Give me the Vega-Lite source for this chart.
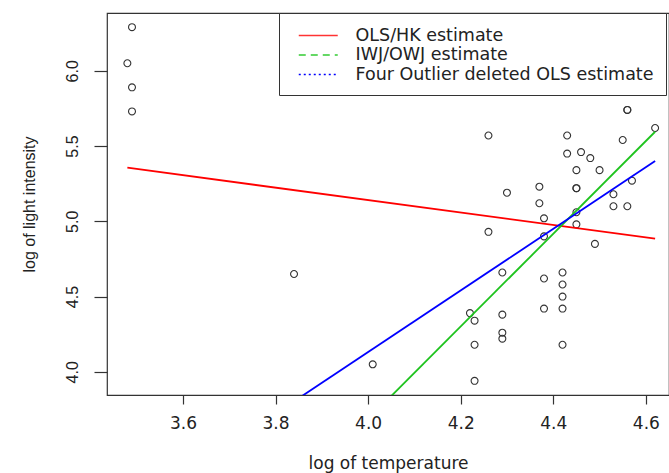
{
  "$schema": "https://vega.github.io/schema/vega-lite/v6.json",
  "width": 562,
  "height": 382,
  "autosize": {"type": "none"},
  "padding": {"left": 107, "top": 13, "right": 0, "bottom": 78},
  "background": "white",
  "config": {
    "view": {"stroke": "#333", "strokeWidth": 1.2},
    "axis": {"grid": false, "labelColor": "#222", "titleColor": "#222", "tickColor": "#333", "tickWidth": 1.2, "titleFontWeight": "normal", "labelFlush": false, "labelOverlap": false, "domain": false}
  },
  "datasets": {
    "stars": [
      {"logTe": 4.37, "logLight": 5.23}, {"logTe": 4.56, "logLight": 5.74}, {"logTe": 4.26, "logLight": 4.93},
      {"logTe": 4.56, "logLight": 5.74}, {"logTe": 4.30, "logLight": 5.19}, {"logTe": 4.46, "logLight": 5.46},
      {"logTe": 3.84, "logLight": 4.65}, {"logTe": 4.57, "logLight": 5.27}, {"logTe": 4.26, "logLight": 5.57},
      {"logTe": 4.37, "logLight": 5.12}, {"logTe": 3.49, "logLight": 5.73}, {"logTe": 4.43, "logLight": 5.45},
      {"logTe": 4.48, "logLight": 5.42}, {"logTe": 4.01, "logLight": 4.05}, {"logTe": 4.29, "logLight": 4.26},
      {"logTe": 4.42, "logLight": 4.58}, {"logTe": 4.23, "logLight": 3.94}, {"logTe": 4.42, "logLight": 4.18},
      {"logTe": 4.23, "logLight": 4.18}, {"logTe": 3.49, "logLight": 5.89}, {"logTe": 4.29, "logLight": 4.38},
      {"logTe": 4.29, "logLight": 4.22}, {"logTe": 4.42, "logLight": 4.42}, {"logTe": 4.49, "logLight": 4.85},
      {"logTe": 4.38, "logLight": 5.02}, {"logTe": 4.42, "logLight": 4.66}, {"logTe": 4.29, "logLight": 4.66},
      {"logTe": 4.38, "logLight": 4.90}, {"logTe": 4.22, "logLight": 4.39}, {"logTe": 3.48, "logLight": 6.05},
      {"logTe": 4.38, "logLight": 4.42}, {"logTe": 4.56, "logLight": 5.10}, {"logTe": 4.45, "logLight": 5.22},
      {"logTe": 3.49, "logLight": 6.29}, {"logTe": 4.23, "logLight": 4.34}, {"logTe": 4.62, "logLight": 5.62},
      {"logTe": 4.53, "logLight": 5.10}, {"logTe": 4.45, "logLight": 5.22}, {"logTe": 4.53, "logLight": 5.18},
      {"logTe": 4.43, "logLight": 5.57}, {"logTe": 4.38, "logLight": 4.62}, {"logTe": 4.45, "logLight": 5.06},
      {"logTe": 4.50, "logLight": 5.34}, {"logTe": 4.45, "logLight": 5.34}, {"logTe": 4.55, "logLight": 5.54},
      {"logTe": 4.45, "logLight": 4.98}, {"logTe": 4.42, "logLight": 4.50}
    ],
    "fits": [
      {"series": "OLS/HK estimate", "x": 3.48, "y": 5.356},
      {"series": "OLS/HK estimate", "x": 4.62, "y": 4.885},
      {"series": "IWJ/OWJ estimate", "x": 4.0, "y": 3.685},
      {"series": "IWJ/OWJ estimate", "x": 4.62, "y": 5.595},
      {"series": "Four Outlier deleted OLS estimate", "x": 3.8, "y": 3.722},
      {"series": "Four Outlier deleted OLS estimate", "x": 4.62, "y": 5.400}
    ]
  },
  "layer": [
    {
      "data": {"name": "stars"},
      "mark": {"type": "point", "shape": "circle", "filled": false, "size": 48, "stroke": "#333", "strokeWidth": 1.1, "opacity": 1},
      "encoding": {
        "x": {"field": "logTe", "type": "quantitative",
          "scale": {"domain": [3.436, 4.65], "zero": false, "nice": false},
          "axis": {"title": "log of temperature", "values": [3.6, 3.8, 4.0, 4.2, 4.4, 4.6], "format": ".1f",
            "tickSize": 9, "labelFont": "DejaVu Sans", "labelFontSize": 17, "labelPadding": 11,
            "titleFont": "DejaVu Sans", "titleFontSize": 17, "titlePadding": 24}},
        "y": {"field": "logLight", "type": "quantitative",
          "scale": {"domain": [3.846, 6.384], "zero": false, "nice": false},
          "axis": {"title": "log of light intensity", "values": [4.0, 4.5, 5.0, 5.5, 6.0], "format": ".1f",
            "tickSize": 13, "labelAngle": -90, "labelAlign": "center", "labelBaseline": "bottom", "labelPadding": 14,
            "labelFont": "Liberation Sans", "labelFontSize": 16,
            "titleFont": "Liberation Sans", "titleFontSize": 16, "titlePadding": 27}}
      }
    },
    {
      "data": {"name": "fits"},
      "mark": {"type": "line", "clip": true, "strokeWidth": 1.8},
      "encoding": {
        "x": {"field": "x", "type": "quantitative"},
        "y": {"field": "y", "type": "quantitative"},
        "detail": {"field": "series"},
        "stroke": {"field": "series", "type": "nominal",
          "scale": {"range": ["#0000ff", "#1ec31e", "#ff0000"]},
          "legend": null}
      }
    },
    {
      "data": {"name": "fits"},
      "transform": [{"filter": "datum.x > 100"}],
      "mark": {"type": "line", "clip": true, "strokeWidth": 1.5},
      "encoding": {
        "x": {"field": "x", "type": "quantitative"},
        "y": {"field": "y", "type": "quantitative"},
        "color": {"field": "series", "type": "nominal",
          "scale": {"domain": ["OLS/HK estimate", "IWJ/OWJ estimate", "Four Outlier deleted OLS estimate"], "range": ["#ff3333", "#33cc33", "#0000ff"]},
          "legend": {"title": null, "orient": "none", "legendX": 172, "legendY": 0, "strokeColor": "#333", "fillColor": "white",
            "padding": 12, "symbolOffset": 16.75, "symbolType": "M-2,0H2", "symbolSize": 380, "symbolStrokeWidth": 1.5, "symbolOpacity": 1,
            "labelFont": "DejaVu Sans", "labelFontSize": 17.5, "labelColor": "#222", "labelOffset": 26.75, "rowPadding": 0.5, "labelLimit": 500}},
        "strokeDash": {"field": "series", "type": "nominal",
          "scale": {"domain": ["OLS/HK estimate", "IWJ/OWJ estimate", "Four Outlier deleted OLS estimate"], "range": [[1, 0], [7, 5], [2, 3]]},
          "legend": {"title": null, "orient": "none", "legendX": 172, "legendY": 0, "strokeColor": "#333", "fillColor": "white",
            "padding": 12, "symbolOffset": 16.75, "symbolType": "M-2,0H2", "symbolSize": 380, "symbolStrokeWidth": 1.5, "symbolOpacity": 1,
            "labelFont": "DejaVu Sans", "labelFontSize": 17.5, "labelColor": "#222", "labelOffset": 26.75, "rowPadding": 0.5, "labelLimit": 500}}
      }
    }
  ]
}
